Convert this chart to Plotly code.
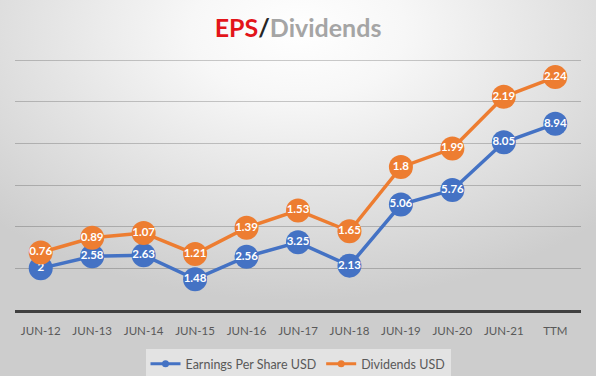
import plotly.graph_objects as go
import base64

categories = ["JUN-12", "JUN-13", "JUN-14", "JUN-15", "JUN-16", "JUN-17",
              "JUN-18", "JUN-19", "JUN-20", "JUN-21", "TTM"]
eps = [2, 2.58, 2.63, 1.48, 2.56, 3.25, 2.13, 5.06, 5.76, 8.05, 8.94]
dividends = [0.76, 0.89, 1.07, 1.21, 1.39, 1.53, 1.65, 1.8, 1.99, 2.19, 2.24]

BLUE = "#4472C4"
ORANGE = "#ED7D31"
FONT = "Lato"

W, H = 596, 376
L, R, T, B = 15, 15, 59, 66

svg = f'''<svg xmlns="http://www.w3.org/2000/svg" width="{W}" height="{H}" viewBox="0 0 {W} {H}">
<defs><radialGradient id="g" cx="0.5" cy="0.08" r="0.72">
<stop offset="0" stop-color="#ffffff"/><stop offset="0.25" stop-color="#f7f7f7"/>
<stop offset="1" stop-color="#cdcdcd"/></radialGradient></defs>
<rect width="{W}" height="{H}" fill="url(#g)"/></svg>'''
bg_uri = "data:image/svg+xml;base64," + base64.b64encode(svg.encode()).decode()

fig = go.Figure()
for name, vals, col in [("Earnings Per Share USD", eps, BLUE),
                        ("Dividends USD", dividends, ORANGE)]:
    fig.add_trace(go.Scatter(
        x=categories, y=vals, name=name, stackgroup="one", fill="none",
        mode="lines+markers+text", showlegend=False,
        line=dict(color=col, width=3.5),
        marker=dict(color=col, size=24),
        text=[f"{v:g}" for v in vals], textposition="middle center",
        textfont=dict(color="white", size=11.5, family=FONT, weight="bold"),
        cliponaxis=False,
    ))
for name, col in [("Earnings Per Share USD", BLUE), ("Dividends USD", ORANGE)]:
    fig.add_trace(go.Scatter(
        x=[None], y=[None], name=name, mode="lines+markers",
        line=dict(color=col, width=3), marker=dict(color=col, size=7),
    ))

pw = W - L - R
ph = H - T - B
fig.update_layout(
    width=W, height=H,
    margin=dict(l=L, r=R, t=T, b=B, autoexpand=False),
    paper_bgcolor="#d6d6d6",
    plot_bgcolor="rgba(0,0,0,0)",
    font=dict(family=FONT, color="#595959"),
    title=dict(
        text='<b><span style="color:#e3151a">EPS</span><span style="color:#262626">/</span>'
             '<span style="color:#a5a5a5">Dividends</span></b>',
        x=0.5, xanchor="center", y=1 - 28 / H, yref="container", yanchor="middle",
        font=dict(size=25, family=FONT)),
    xaxis=dict(range=[-0.5, len(categories) - 0.5], showgrid=False, showline=True,
               linecolor="#404040", linewidth=2.5,
               ticks="", tickfont=dict(size=11.5, color="#595959"),
               ticklabelstandoff=8, automargin=False, fixedrange=True),
    yaxis=dict(range=[0, 12.05], tick0=0, dtick=2, showgrid=True,
               gridcolor="rgba(0,0,0,0.2)", automargin=False,
               gridwidth=1, showticklabels=False, zeroline=False, showline=False),
    legend=dict(orientation="h", x=0.5, xanchor="center",
                y=(H - 364) / H, yref="container",
                yanchor="middle", traceorder="normal",
                bgcolor="rgba(236,236,236,0.7)",
                font=dict(size=12.5, color="#595959", family=FONT),
                itemwidth=30),
    showlegend=True,
    images=[dict(source=bg_uri, xref="paper", yref="paper",
                 x=-L / pw, y=1 + T / ph, sizex=W / pw, sizey=H / ph,
                 xanchor="left", yanchor="top", sizing="stretch", layer="below")],
)

fig.write_html("out.html",
               config={"displayModeBar": False},
               post_script="document.body.style.margin='0';document.body.style.overflow='hidden';")
